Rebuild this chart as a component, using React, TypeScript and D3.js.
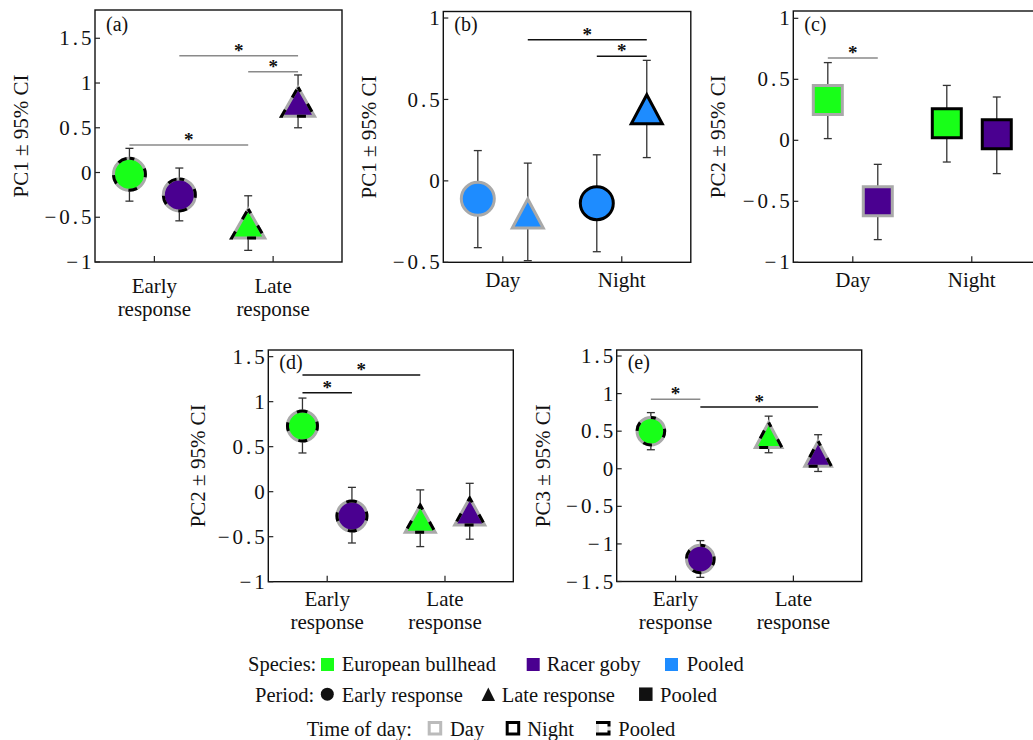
import React from "react";
import * as d3 from "d3";

// ---------- data ----------
const periodCats = ["Early response", "Late response"];
const timeCats = ["Day", "Night"];

// (a) PC1, grouped by period, species side by side, time pooled
const panelAPoints = [
  { cat: "Early response", species: "European bullhead", period: "Early response", time: "Pooled", mean: -0.02, lo: -0.32, hi: 0.27 },
  { cat: "Early response", species: "Racer goby", period: "Early response", time: "Pooled", mean: -0.25, lo: -0.54, hi: 0.05 },
  { cat: "Late response", species: "European bullhead", period: "Late response", time: "Pooled", mean: -0.57, lo: -0.87, hi: -0.26 },
  { cat: "Late response", species: "Racer goby", period: "Late response", time: "Pooled", mean: 0.79, lo: 0.5, hi: 1.09 },
];
const panelASig = [
  { from: 1, to: 3, y: 1.305, grey: true },
  { from: 2, to: 3, y: 1.126, grey: true },
  { from: 0, to: 2, y: 0.307, grey: true },
];

// (b) PC1, grouped by time of day, periods side by side, species pooled
const panelBPoints = [
  { cat: "Day", species: "Pooled", period: "Early response", time: "Day", mean: -0.11, lo: -0.41, hi: 0.186 },
  { cat: "Day", species: "Pooled", period: "Late response", time: "Day", mean: -0.2, lo: -0.49, hi: 0.109 },
  { cat: "Night", species: "Pooled", period: "Early response", time: "Night", mean: -0.137, lo: -0.435, hi: 0.16 },
  { cat: "Night", species: "Pooled", period: "Late response", time: "Night", mean: 0.44, lo: 0.143, hi: 0.74 },
];
const panelBSig = [
  { from: 1, to: 3, y: 0.866, grey: false },
  { from: 2, to: 3, y: 0.765, grey: false },
];

// (c) PC2, grouped by time of day, species side by side, period pooled
const panelCPoints = [
  { cat: "Day", species: "European bullhead", period: "Pooled", time: "Day", mean: 0.33, lo: 0.014, hi: 0.637 },
  { cat: "Day", species: "Racer goby", period: "Pooled", time: "Day", mean: -0.5, lo: -0.814, hi: -0.197 },
  { cat: "Night", species: "European bullhead", period: "Pooled", time: "Night", mean: 0.14, lo: -0.178, hi: 0.45 },
  { cat: "Night", species: "Racer goby", period: "Pooled", time: "Night", mean: 0.05, lo: -0.273, hi: 0.355 },
];
const panelCSig = [{ from: 0, to: 1, y: 0.675, grey: true }];

// (d) PC2, grouped by period, species side by side, time pooled
const panelDPoints = [
  { cat: "Early response", species: "European bullhead", period: "Early response", time: "Pooled", mean: 0.73, lo: 0.43, hi: 1.04 },
  { cat: "Early response", species: "Racer goby", period: "Early response", time: "Pooled", mean: -0.27, lo: -0.57, hi: 0.048 },
  { cat: "Late response", species: "European bullhead", period: "Late response", time: "Pooled", mean: -0.3, lo: -0.61, hi: 0.02 },
  { cat: "Late response", species: "Racer goby", period: "Late response", time: "Pooled", mean: -0.22, lo: -0.528, hi: 0.093 },
];
const panelDSig = [
  { from: 0, to: 2, y: 1.295, grey: false },
  { from: 0, to: 1, y: 1.1, grey: false },
];

// (e) PC3, grouped by period, species side by side, time pooled
const panelEPoints = [
  { cat: "Early response", species: "European bullhead", period: "Early response", time: "Pooled", mean: 0.5, lo: 0.253, hi: 0.747 },
  { cat: "Early response", species: "Racer goby", period: "Early response", time: "Pooled", mean: -1.2, lo: -1.445, hi: -0.956 },
  { cat: "Late response", species: "European bullhead", period: "Late response", time: "Pooled", mean: 0.45, lo: 0.213, hi: 0.7 },
  { cat: "Late response", species: "Racer goby", period: "Late response", time: "Pooled", mean: 0.2, lo: -0.036, hi: 0.453 },
];
const panelESig = [
  { from: 0, to: 1, y: 0.924, grey: true },
  { from: 1, to: 3, y: 0.82, grey: false },
];

const ticksA = [-1, -0.5, 0, 0.5, 1, 1.5];
const ticksB = [-0.5, 0, 0.5, 1];
const ticksC = [-1, -0.5, 0, 0.5, 1];
const ticksD = [-1, -0.5, 0, 0.5, 1, 1.5];
const ticksE = [-1.5, -1, -0.5, 0, 0.5, 1, 1.5];

const speciesLegend = ["European bullhead", "Racer goby", "Pooled"];
const periodLegend = ["Early response", "Late response", "Pooled"];
const timeLegend = ["Day", "Night", "Pooled"];

// ---------- styles ----------
const FONT = "'Liberation Serif', 'Times New Roman', serif";
const speciesColor: Record<string, string> = {
  "European bullhead": "#18ff18",
  "Racer goby": "#4a0090",
  Pooled: "#1e8cff",
};
const DAY_GREY = "#a9a9a9";
const SIG_GREY = "#8a8a8a";
const TICK_LS = 3;

const panels = [
  {
    id: "(a)", points: panelAPoints, sig: panelASig, cats: periodCats, ticks: ticksA,
    yTitle: "PC1 ± 95% CI", left: 95, top: 10, bottom: 262, width: 247, yDomain: [-1, 1.816],
    titleX: 21, twoLine: true, labelDy: [30.5, 53.5], size: { r: 16, tw: 33, th: 29, sq: 29 }, tagDy: 21,
  },
  {
    id: "(b)", points: panelBPoints, sig: panelBSig, cats: timeCats, ticks: ticksB,
    yTitle: "PC1 ± 95% CI", left: 443.3, top: 11.5, bottom: 262.3, width: 247.5, yDomain: [-0.5, 1.04],
    titleX: 369, twoLine: false, labelDy: [24.5], size: { r: 16.5, tw: 31, th: 29, sq: 29 }, tagDy: 19,
  },
  {
    id: "(c)", points: panelCPoints, sig: panelCSig, cats: timeCats, ticks: ticksC,
    yTitle: "PC2 ± 95% CI", left: 793.3, top: 11, bottom: 262.3, width: 247.5, yDomain: [-1, 1.06],
    titleX: 718, twoLine: false, labelDy: [24.5], size: { r: 16, tw: 30, th: 28, sq: 29 }, tagDy: 20,
  },
  {
    id: "(d)", points: panelDPoints, sig: panelDSig, cats: periodCats, ticks: ticksD,
    yTitle: "PC2 ± 95% CI", left: 268.3, top: 350, bottom: 581.7, width: 245, yDomain: [-1, 1.574],
    titleX: 198, twoLine: true, labelDy: [24.5, 47.5], size: { r: 15, tw: 30, th: 27, sq: 27 }, tagDy: 19,
  },
  {
    id: "(e)", points: panelEPoints, sig: panelESig, cats: periodCats, ticks: ticksE,
    yTitle: "PC3 ± 95% CI", left: 616.7, top: 350, bottom: 581.5, width: 245, yDomain: [-1.5, 1.58],
    titleX: 543, twoLine: true, labelDy: [24.5, 47.5], size: { r: 13.8, tw: 26.5, th: 25, sq: 26 }, tagDy: 19,
  },
];

const fmt = (v: number) => (v < 0 ? "\u2212" + String(Math.abs(v)) : String(v));

function shapeOf(period: string) {
  if (period === "Early response") return "circle";
  if (period === "Late response") return "triangle";
  return "square";
}

function shapePath(shape: string, cx: number, cy: number, size: any) {
  const p = d3.path();
  if (shape === "circle") {
    p.arc(cx, cy, size.r, -Math.PI / 2, (3 * Math.PI) / 2);
    p.closePath();
  } else if (shape === "triangle") {
    p.moveTo(cx, cy - size.th / 2);
    p.lineTo(cx + size.tw / 2, cy + size.th / 2);
    p.lineTo(cx - size.tw / 2, cy + size.th / 2);
    p.closePath();
  } else {
    p.rect(cx - size.sq / 2, cy - size.sq / 2, size.sq, size.sq);
  }
  return p.toString();
}

function Marker({ shape, cx, cy, fill, time, size }: any) {
  const d = shapePath(shape, cx, cy, size);
  const sw = 3;
  if (time === "Pooled") {
    return (
      <g>
        <path d={d} fill={fill} stroke={DAY_GREY} strokeWidth={sw} strokeLinejoin="miter" />
        <path d={d} fill="none" stroke="#000" strokeWidth={sw} strokeDasharray="9 14" strokeDashoffset={4} strokeLinejoin="miter" />
      </g>
    );
  }
  return <path d={d} fill={fill} stroke={time === "Day" ? DAY_GREY : "#000"} strokeWidth={sw} strokeLinejoin="miter" />;
}

function Panel({ cfg }: any) {
  const x = d3.scaleLinear().domain([0.5, 2.58]).range([cfg.left, cfg.left + cfg.width]);
  const y = d3.scaleLinear().domain(cfg.yDomain).range([cfg.bottom, cfg.top]);
  const px = (i: number) => {
    const pt = cfg.points[i];
    const g = cfg.cats.indexOf(pt.cat) + 1;
    return x(g + (i % 2 === 0 ? -0.21 : 0.21));
  };
  const midY = (cfg.top + cfg.bottom) / 2;
  return (
    <g>
      {/* frame */}
      <rect x={cfg.left} y={cfg.top} width={cfg.width} height={cfg.bottom - cfg.top} fill="none" stroke="#111" strokeWidth={1.4} />
      {/* y ticks */}
      {cfg.ticks.map((t: number) => (
        <g key={t}>
          <line x1={cfg.left} x2={cfg.left + 5} y1={y(t)} y2={y(t)} stroke="#222" strokeWidth={1.2} />
          <text x={cfg.left - 3.5 + TICK_LS} y={y(t)} dy="0.34em" textAnchor="end" fontSize={21} letterSpacing={TICK_LS} fontFamily={FONT} fill="#111">
            {fmt(t)}
          </text>
        </g>
      ))}
      {/* x ticks & labels */}
      {cfg.cats.map((c: string, i: number) => {
        const cx = x(i + 1);
        const lines = cfg.twoLine ? c.split(" ") : [c];
        return (
          <g key={c}>
            <line x1={cx} x2={cx} y1={cfg.bottom} y2={cfg.bottom - 6} stroke="#222" strokeWidth={1.2} />
            {lines.map((ln: string, k: number) => (
              <text key={k} x={cx} y={cfg.bottom + cfg.labelDy[k]} textAnchor="middle" fontSize={21} fontFamily={FONT} fill="#111">
                {ln}
              </text>
            ))}
          </g>
        );
      })}
      {/* y title */}
      <text transform={`translate(${cfg.titleX},${midY}) rotate(-90)`} textAnchor="middle" dy="0.35em" fontSize={21} fontFamily={FONT} fill="#111">
        {cfg.yTitle}
      </text>
      {/* panel tag */}
      <text x={cfg.left + 11} y={cfg.top + cfg.tagDy} fontSize={20} fontFamily={FONT} fill="#111">
        {cfg.id}
      </text>
      {/* significance bars */}
      {cfg.sig.map((s: any, k: number) => {
        const x1 = px(s.from);
        const x2 = px(s.to);
        return (
          <g key={k}>
            <line x1={x1} x2={x2} y1={y(s.y)} y2={y(s.y)} stroke={s.grey ? SIG_GREY : "#111"} strokeWidth={1.5} />
            <text x={(x1 + x2) / 2} y={y(s.y) + 1} textAnchor="middle" fontSize={19} fontWeight="bold" fontFamily={FONT} fill="#111">
              *
            </text>
          </g>
        );
      })}
      {/* error bars */}
      {cfg.points.map((p: any, i: number) => {
        const cx = px(i);
        return (
          <g key={"e" + i} stroke="#333" strokeWidth={1.3}>
            <line x1={cx} x2={cx} y1={y(p.lo)} y2={y(p.hi)} />
            <line x1={cx - 4} x2={cx + 4} y1={y(p.lo)} y2={y(p.lo)} />
            <line x1={cx - 4} x2={cx + 4} y1={y(p.hi)} y2={y(p.hi)} />
          </g>
        );
      })}
      {/* markers */}
      {cfg.points.map((p: any, i: number) => (
        <Marker key={"m" + i} shape={shapeOf(p.period)} cx={px(i)} cy={y(p.mean)} fill={speciesColor[p.species]} time={p.time} size={cfg.size} />
      ))}
    </g>
  );
}

function Legend() {
  const fs = 20.5;
  const t = (s: string, xx: number, yy: number) => (
    <text x={xx} y={yy} fontSize={fs} fontFamily={FONT} fill="#111">
      {s}
    </text>
  );
  const row1 = 670.5, row2 = 701.5, row3 = 735.5;
  const spX = [321, 526.7, 665];
  const spT = [341.7, 546.7, 686.7];
  const peT = [341.7, 501.7, 660];
  const tiX = [427.7, 505.7, 596];
  const tiT = [450, 527.3, 618.3];
  return (
    <g>
      {t("Species:", 248, row1)}
      {speciesLegend.map((s, i) => (
        <g key={s}>
          <rect x={spX[i]} y={row1 - 12.5} width={13} height={13} fill={speciesColor[s]} />
          {t(s, spT[i], row1)}
        </g>
      ))}
      {t("Period:", 255, row2)}
      {periodLegend.map((s, i) => {
        const shape = shapeOf(s);
        const cx = [327.3, 488.3, 645.8][i];
        const cy = row2 - 7.3;
        const d = shapePath(shape, cx, cy, { r: 6.5, tw: 13.5, th: 13.5, sq: 13.5 });
        return (
          <g key={s}>
            <path d={d} fill="#111" />
            {t(s, peT[i], row2)}
          </g>
        );
      })}
      {t("Time of day:", 306.7, row3)}
      {timeLegend.map((s, i) => {
        const x0 = tiX[i] + 1.5;
        const y0 = row3 - 13;
        const side = 11.5;
        return (
          <g key={s}>
            {s === "Pooled" ? (
              <g>
                <rect x={x0} y={y0} width={side} height={side} fill="none" stroke="#ddd" strokeWidth={3} />
                <path
                  d={`M${x0 - 1.5},${y0}H${x0 + side}V${y0 + side * 0.35}M${x0 + side},${y0 + side * 0.7}V${y0 + side}H${x0 - 1.5}`}
                  fill="none"
                  stroke="#000"
                  strokeWidth={3}
                />
              </g>
            ) : (
              <rect x={x0} y={y0} width={side} height={side} fill="#fff" stroke={s === "Day" ? "#bbb" : "#000"} strokeWidth={3} />
            )}
            {t(s, tiT[i], row3)}
          </g>
        );
      })}
    </g>
  );
}

export default function App() {
  return (
    <svg width={1033} height={740} style={{ position: "absolute", left: 0, top: 0, background: "#fff" }}>
      <rect width={1033} height={740} fill="#fff" />
      {panels.map((p) => (
        <Panel key={p.id} cfg={p} />
      ))}
      <Legend />
    </svg>
  );
}
